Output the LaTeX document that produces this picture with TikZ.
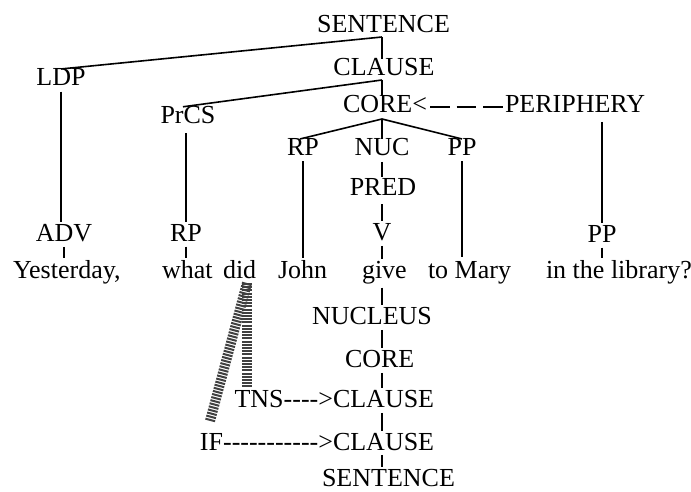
\documentclass[tikz,border=0pt]{standalone}
\usepackage{fontspec}
\setmainfont{Liberation Serif}[Ligatures=TeXOff]
\begin{document}
\begin{tikzpicture}[x=1pt,y=-1pt,
  lbl/.style={inner sep=0pt,outer sep=0pt,font=\fontsize{26}{30}\selectfont,anchor=base},
  lblw/.style={lbl,anchor=base west},
  lble/.style={lbl,anchor=base east},
  dlink/.style={line width=1.6pt},
  tlink/.style={line width=1.2pt},
  vlink/.style={line width=1.2pt,shorten <=5.5pt,shorten >=1.5pt},
  band/.style={line width=10pt,black!75,dash pattern=on 2pt off 1.2pt},
  periline/.style={line width=1.1pt,dash pattern=on 19.5pt off 7pt,shorten <=3pt,shorten >=2pt}]
\useasboundingbox (0,0) rectangle (691,492);
% upper tree
\node[lbl] (s1) at (383.5,33) {SENTENCE};
\node[lbl] (cl1) at (384,76) {CLAUSE};
\node[lbl] (ldp) at (61,86) {LDP};
\node[lbl] (prcs) at (188,124) {PrCS};
\node[lblw] (core) at (343,113) {CORE<};
\node[lblw] (peri) at (505,113) {PERIPHERY};
\node[lbl] (rp1) at (303,156) {RP};
\node[lbl] (nuc) at (382,156) {NUC};
\node[lbl] (pp1) at (462,156) {PP};
\node[lbl] (pred) at (383,196) {PRED};
\node[lbl] (v) at (382,240) {V};
\node[lbl] (adv) at (64,241) {ADV};
\node[lbl] (rp2) at (186,241) {RP};
\node[lbl] (pp2) at (602,242) {PP};
% words
\node[lblw] (yest) at (13,278) {Yesterday,};
\node[lblw] (what) at (162,278) {what};
\node[lblw] (did) at (223,278) {did};
\node[lblw] (john) at (278,278) {John};
\node[lblw] (give) at (362,278) {give};
\node[lblw] (mary) at (428,278) {to Mary};
\node[lblw] (lib) at (546,278) {in the library?};
% lower tree
\node[lblw] (nucleus) at (312,324) {NUCLEUS};
\node[lblw] (core2) at (345,367) {CORE};
\node[lble] (tns) at (333,407) {TNS---->};
\node[lblw] (cl3) at (333,407) {CLAUSE};
\node[lble] (iff) at (333,450) {IF----------->};
\node[lblw] (cl4) at (333,450) {CLAUSE};
\node[lblw] (s2) at (322,486) {SENTENCE};
% branch points
\coordinate (ax) at (382,0);
\coordinate (j1) at (382,37);
\coordinate (j2) at (382,80);
\coordinate (j3) at (382,119);
\coordinate (db) at (247,283);
\coordinate (ib) at (210,421);
% connectors
\draw[dlink] (j1) -- (ldp.north);
\draw[tlink] (j1) -- (ax |- cl1.north);
\draw[dlink] (j2) -- ([xshift=-5pt]prcs.north);
\draw[tlink] (j2) -- (ax |- core.north);
\draw[dlink] (j3) -- ([xshift=-3pt]rp1.north);
\draw[dlink] (j3) -- (pp1.north);
\draw[tlink] (j3) -- (ax |- nuc.north);
\draw[periline] ([yshift=6pt]core.base east) -- ([yshift=6pt]peri.base west);
\draw[vlink] (ax |- nuc.south) -- (ax |- pred.north);
\draw[vlink,shorten <=8pt] (ax |- pred.south) -- (ax |- v.north);
\draw[vlink] (ax |- v.south) -- (ax |- give.north);
\draw[vlink,shorten <=4pt] (ax |- give.south) -- (ax |- nucleus.north);
\draw[vlink] (ax |- nucleus.south) -- (ax |- core2.north);
\draw[vlink] (ax |- core2.south) -- (ax |- cl3.north);
\draw[vlink] (ax |- cl3.south) -- (ax |- cl4.north);
\draw[vlink,shorten <=4.5pt] (ax |- cl4.south) -- (ax |- s2.north);
\draw[vlink] (ldp.south) -- (ldp.south |- adv.north);
\draw[vlink] (adv.south) -- (adv.south |- yest.north);
\draw[vlink,shorten <=9pt] (rp2.north |- prcs.south) -- (rp2.north);
\draw[vlink] (rp2.south) -- (rp2.south |- what.north);
\draw[vlink] (rp1.south) -- (rp1.south |- john.north);
\draw[vlink,shorten >=4pt] (pp1.south) -- (pp1.south |- mary.north);
\draw[vlink,shorten <=9pt] (pp2.north |- peri.south) -- (pp2.north);
\draw[vlink] (pp2.south) -- (pp2.south |- lib.north);
% hatched bands from "did"
\draw[band] (db) -- (ib);
\draw[band,shorten >=3pt] (db) -- (db |- tns.north);
\end{tikzpicture}
\end{document}
